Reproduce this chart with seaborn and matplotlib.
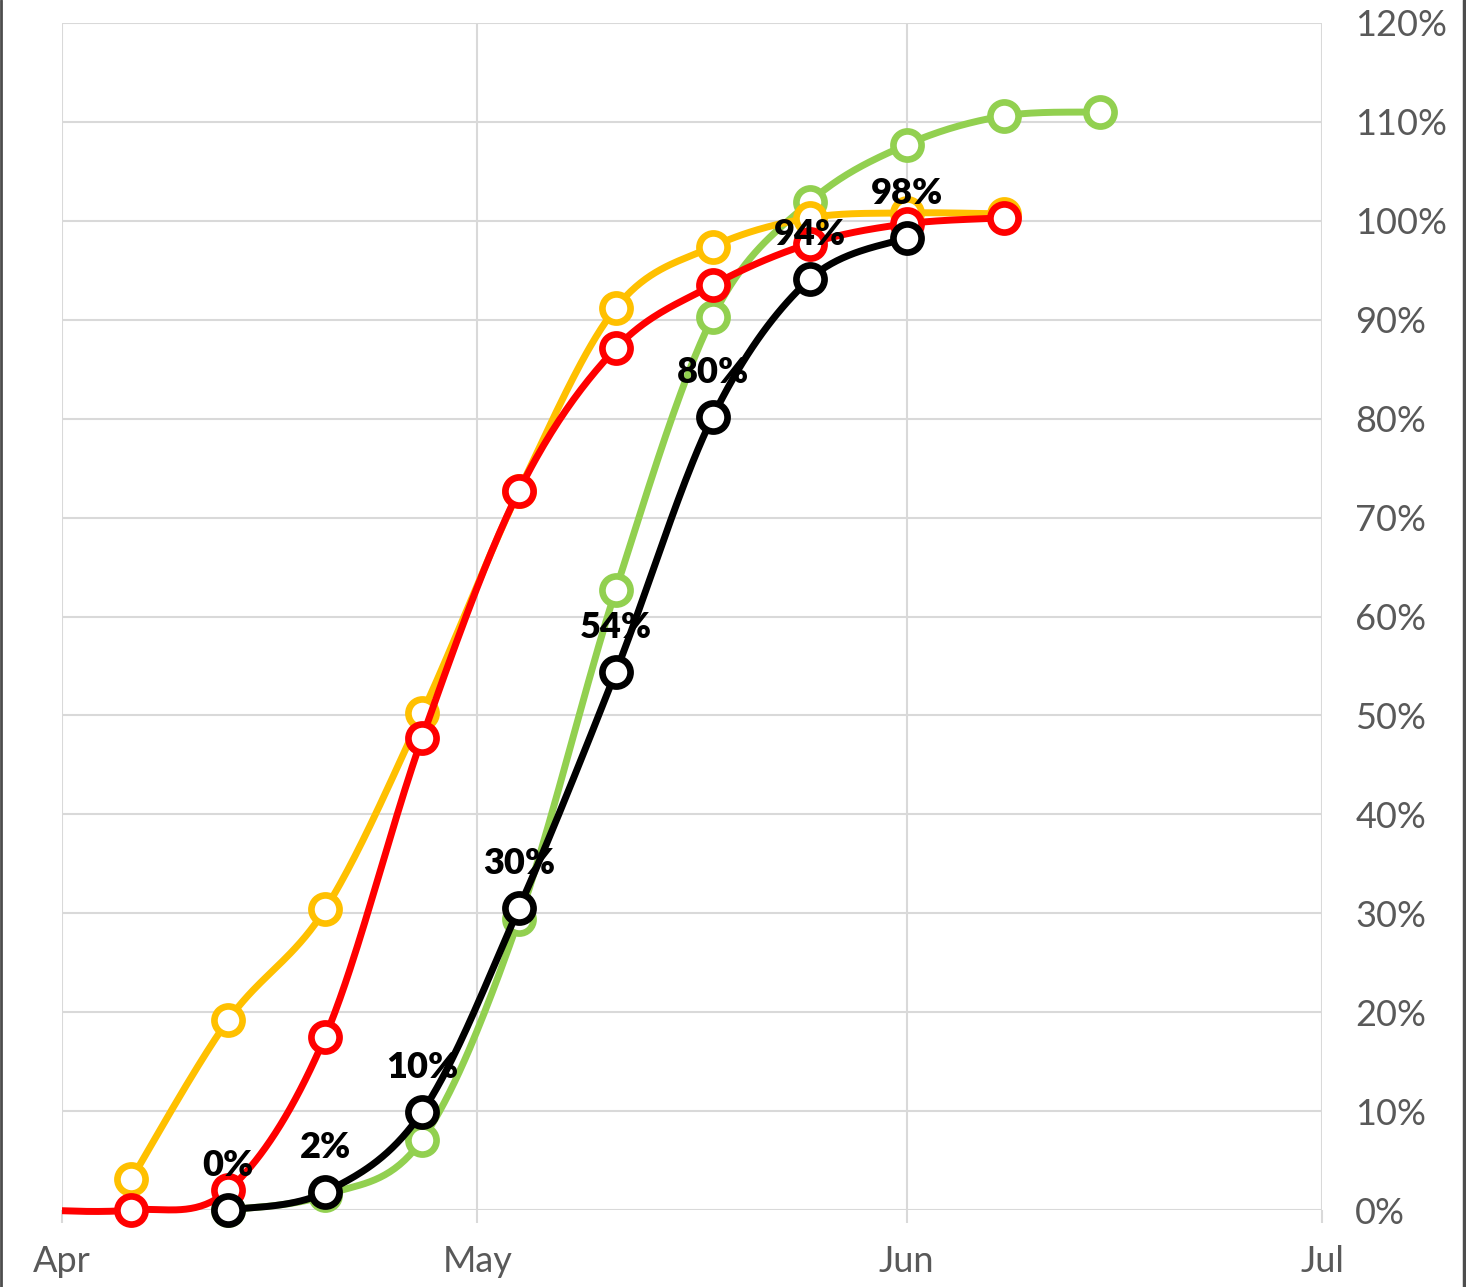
import numpy as np
import pandas as pd
import matplotlib
matplotlib.use("Agg")
import matplotlib.pyplot as plt
import matplotlib.dates as mdates
from matplotlib.lines import Line2D
from matplotlib.patches import Rectangle
import seaborn as sns

# weekly sample dates
dates_all = pd.to_datetime(["2021-03-30", "2021-04-06", "2021-04-13", "2021-04-20",
                            "2021-04-27", "2021-05-04", "2021-05-11", "2021-05-18",
                            "2021-05-25", "2021-06-01", "2021-06-08", "2021-06-15"])

yellow_dates = dates_all[1:11]
yellow_vals = [3.1, 19.2, 30.4, 50.2, 72.7, 91.2, 97.4, 100.3, 100.8, 100.7]

red_dates = dates_all[0:11]
red_vals = [0.0, 0.0, 2.0, 17.5, 47.7, 72.7, 87.1, 93.5, 97.7, 99.7, 100.3]

green_dates = dates_all[2:12]
green_vals = [0.0, 1.5, 7.1, 29.4, 62.7, 90.3, 101.9, 107.7, 110.6, 111.0]

black_dates = dates_all[2:10]
black_vals = [0.0, 1.8, 9.9, 30.5, 54.4, 80.2, 94.1, 98.3]
black_labels = ["0%", "2%", "10%", "30%", "54%", "80%", "94%", "98%"]

month_ticks = pd.to_datetime(["2021-04-01", "2021-05-01", "2021-06-01", "2021-07-01"])
month_labels = ["Apr", "May", "Jun", "Jul"]
y_ticks = list(range(0, 121, 10))


def smooth(x, y, n=40):
    # Excel-style smoothed line (cubic Bezier, 1/6 tangents)
    x = np.asarray(x, float)
    y = np.asarray(y, float)
    px = np.r_[x[0], x, x[-1]]
    py = np.r_[y[0], y, y[-1]]
    t = np.linspace(0, 1, n)
    xs, ys = [], []
    for k in range(len(x) - 1):
        p0 = np.array([px[k], py[k]])
        p1 = np.array([px[k + 1], py[k + 1]])
        p2 = np.array([px[k + 2], py[k + 2]])
        p3 = np.array([px[k + 3], py[k + 3]])
        c1 = p1 + (p2 - p0) / 6
        c2 = p2 - (p3 - p1) / 6
        b = ((1 - t) ** 3)[:, None] * p1 + (3 * (1 - t) ** 2 * t)[:, None] * c1 \
            + (3 * (1 - t) * t ** 2)[:, None] * c2 + (t ** 3)[:, None] * p2
        xs.append(b[:, 0])
        ys.append(b[:, 1])
    return np.concatenate(xs), np.concatenate(ys)


sns.set_theme(style="white")
plt.rcParams['font.family'] = ['Lato', 'DejaVu Sans']

fig = plt.figure(figsize=(14.66, 12.87), dpi=100)
ax = fig.add_axes([62 / 1466, 1 - 1210 / 1287, (1322 - 62) / 1466, (1210 - 23) / 1287])

series = [
    (green_dates, green_vals, "#92D050"),
    (yellow_dates, yellow_vals, "#FFC000"),
    (red_dates, red_vals, "#FF0000"),
    (black_dates, black_vals, "#000000"),
]

x_lo = mdates.date2num(month_ticks[0])
x_hi = mdates.date2num(month_ticks[-1])

# clip lines only at the left/right, so lines along 0% keep full width
clip_rect = Rectangle((0, -0.05), 1, 1.15, transform=ax.transAxes,
                      fill=False, visible=False)
ax.add_patch(clip_rect)

z = 3
for d, v, c in series:
    xn = mdates.date2num(d)
    sx, sy = smooth(xn, v)
    line, = ax.plot(sx, sy, color=c, linewidth=5.0, zorder=z, solid_capstyle="round")
    line.set_clip_path(clip_rect)
    keep = xn >= x_lo
    sns.scatterplot(x=xn[keep], y=np.asarray(v)[keep], ax=ax, s=410, marker="o",
                    facecolor="white", edgecolor=c, linewidth=4.8,
                    zorder=z + 1, clip_on=False)
    z += 2

for d, v, lab in zip(mdates.date2num(black_dates), black_vals, black_labels):
    ax.annotate(lab, (d, v), xytext=(0, 32), textcoords="offset points",
                ha="center", va="center", fontsize=26, fontweight="heavy",
                color="black", zorder=20)

ax.set_xlim(x_lo, x_hi)
ax.set_ylim(0, 120)
ax.set_xticks(mdates.date2num(month_ticks))
ax.set_xticklabels(month_labels)
ax.set_yticks(y_ticks)
ax.set_yticklabels([f"{v}%" for v in y_ticks])
ax.yaxis.tick_right()

for s in ax.spines.values():
    s.set_visible(False)
ax.grid(True, color="#d9d9d9", lw=1.5, zorder=0)
ax.tick_params(axis="x", length=9, width=1.5, color="#d9d9d9", pad=16,
               labelsize=26, labelcolor="#595959", bottom=True)
ax.tick_params(axis="y", length=0, pad=24, labelsize=26, labelcolor="#595959")
ax.set_xlabel("")
ax.set_ylabel("")

fig.add_artist(Line2D([0.001, 0.001], [0, 1], transform=fig.transFigure,
                      color="#4d4d4d", lw=2))
fig.add_artist(Line2D([0.9986, 0.9986], [0, 1], transform=fig.transFigure,
                      color="#4d4d4d", lw=2.5))

fig.savefig("out.png", dpi=100)
